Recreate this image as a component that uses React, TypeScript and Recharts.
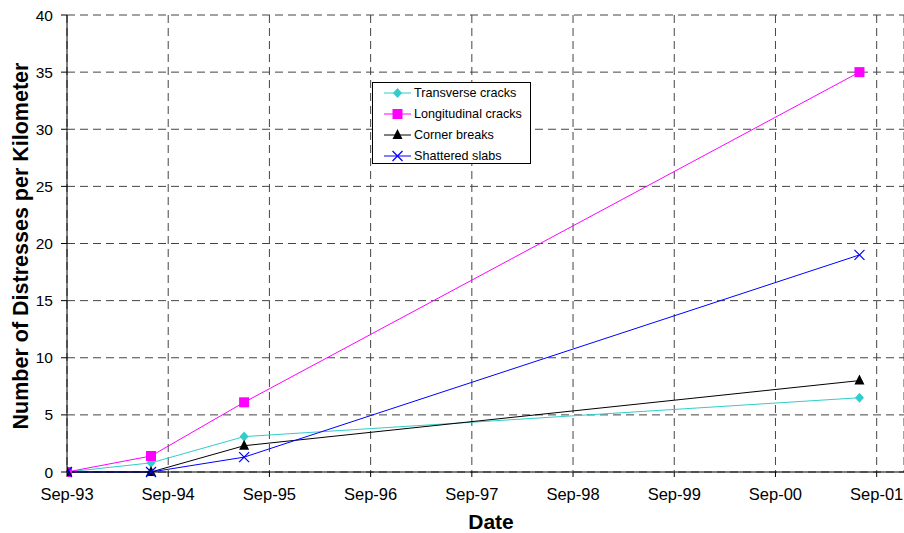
import { CartesianGrid, Line, LineChart, XAxis, YAxis } from "recharts";

// x is years since Sep-93
const xYears = [0, 0.83, 1.75, 7.83];
const transverse = [0, 0.8, 3.1, 6.5];
const longitudinal = [0, 1.4, 6.1, 35];
const corner = [0, 0, 2.3, 8];
const shattered = [0, 0, 1.3, 19];
const xTickLabels = ["Sep-93", "Sep-94", "Sep-95", "Sep-96", "Sep-97", "Sep-98", "Sep-99", "Sep-00", "Sep-01"];
const yTicks = [0, 5, 10, 15, 20, 25, 30, 35, 40];

const data = xYears.map((x, i) => ({
  x,
  transverse: transverse[i],
  longitudinal: longitudinal[i],
  corner: corner[i],
  shattered: shattered[i],
}));

const FONT = "'Liberation Sans', Arial, sans-serif";

type Kind = "diamond" | "square" | "triangle" | "cross";

function Marker({ kind, cx, cy, color }: { kind: Kind; cx: number; cy: number; color: string }) {
  if (kind === "diamond")
    return <polygon points={`${cx},${cy - 5} ${cx + 4.5},${cy} ${cx},${cy + 5} ${cx - 4.5},${cy}`} fill={color} />;
  if (kind === "square") return <rect x={cx - 5} y={cy - 5} width={10} height={10} fill={color} />;
  if (kind === "triangle")
    return <polygon points={`${cx},${cy - 6} ${cx + 5},${cy + 4} ${cx - 5},${cy + 4}`} fill={color} />;
  return (
    <g stroke={color} strokeWidth={1.2}>
      <line x1={cx - 5} y1={cy - 5} x2={cx + 5} y2={cy + 5} />
      <line x1={cx - 5} y1={cy + 5} x2={cx + 5} y2={cy - 5} />
    </g>
  );
}

const series: { key: string; name: string; color: string; kind: Kind }[] = [
  { key: "transverse", name: "Transverse cracks", color: "#33CCCC", kind: "diamond" },
  { key: "longitudinal", name: "Longitudinal cracks", color: "#FF00FF", kind: "square" },
  { key: "corner", name: "Corner breaks", color: "#000000", kind: "triangle" },
  { key: "shattered", name: "Shattered slabs", color: "#0000FF", kind: "cross" },
];

function LegendBox() {
  return (
    <div
      style={{
        position: "absolute",
        left: 372,
        top: 82,
        width: 159,
        height: 82,
        border: "1px solid #000",
        background: "#fff",
        boxSizing: "border-box",
        fontFamily: FONT,
        fontSize: 12.6,
      }}
    >
      {series.map((s) => (
        <div key={s.key} style={{ display: "flex", alignItems: "center", height: 20.9 }}>
          <svg width={30} height={14} style={{ marginLeft: 11 }}>
            <line x1={0} y1={7} x2={27} y2={7} stroke={s.color} strokeWidth={1} />
            <Marker kind={s.kind} cx={13.5} cy={7} color={s.color} />
          </svg>
          <span>{s.name}</span>
        </div>
      ))}
    </div>
  );
}

export default function App() {
  return (
    <div style={{ position: "absolute", left: 0, top: 0, width: 904, height: 533, background: "#fff" }}>
      <LineChart width={904} height={533} data={data} margin={{ top: 15, right: 0, bottom: 0, left: 0 }}>
        <CartesianGrid stroke="#444" strokeDasharray="8 5" strokeWidth={1} />
        <XAxis
          type="number"
          dataKey="x"
          domain={[0, 8.27]}
          ticks={[0, 1, 2, 3, 4, 5, 6, 7, 8]}
          tickFormatter={(v: number) => xTickLabels[v] ?? ""}
          height={61}
          stroke="#000"
          tickSize={5}
          tickMargin={11}
          tick={{ fill: "#000", fontSize: 16.5, fontFamily: FONT }}
          allowDataOverflow
          label={{
            content: () => (
              <text x={491} y={529} textAnchor="middle" fontFamily={FONT} fontSize={21} fontWeight="bold" fill="#000">
                Date
              </text>
            ),
          }}
        />
        <YAxis
          type="number"
          domain={[0, 40]}
          ticks={yTicks}
          width={67}
          stroke="#000"
          tickSize={6}
          tickMargin={8}
          tick={{ fill: "#000", fontSize: 15.5, fontFamily: FONT }}
          label={{
            content: () => (
              <text
                x={28}
                y={246}
                transform="rotate(-90 28 246)"
                textAnchor="middle"
                fontFamily={FONT}
                fontSize={21.5}
                fontWeight="bold"
                fill="#000"
              >
                Number of Distresses per Kilometer
              </text>
            ),
          }}
        />
        {series.map((s) => (
          <Line
            key={s.key}
            type="linear"
            dataKey={s.key}
            name={s.name}
            stroke={s.color}
            strokeWidth={1}
            isAnimationActive={false}
            dot={(p: any) => <Marker key={`${s.key}-${p.index}`} kind={s.kind} cx={p.cx} cy={p.cy} color={s.color} />}
            activeDot={false}
          />
        ))}
      </LineChart>
      <LegendBox />
    </div>
  );
}
